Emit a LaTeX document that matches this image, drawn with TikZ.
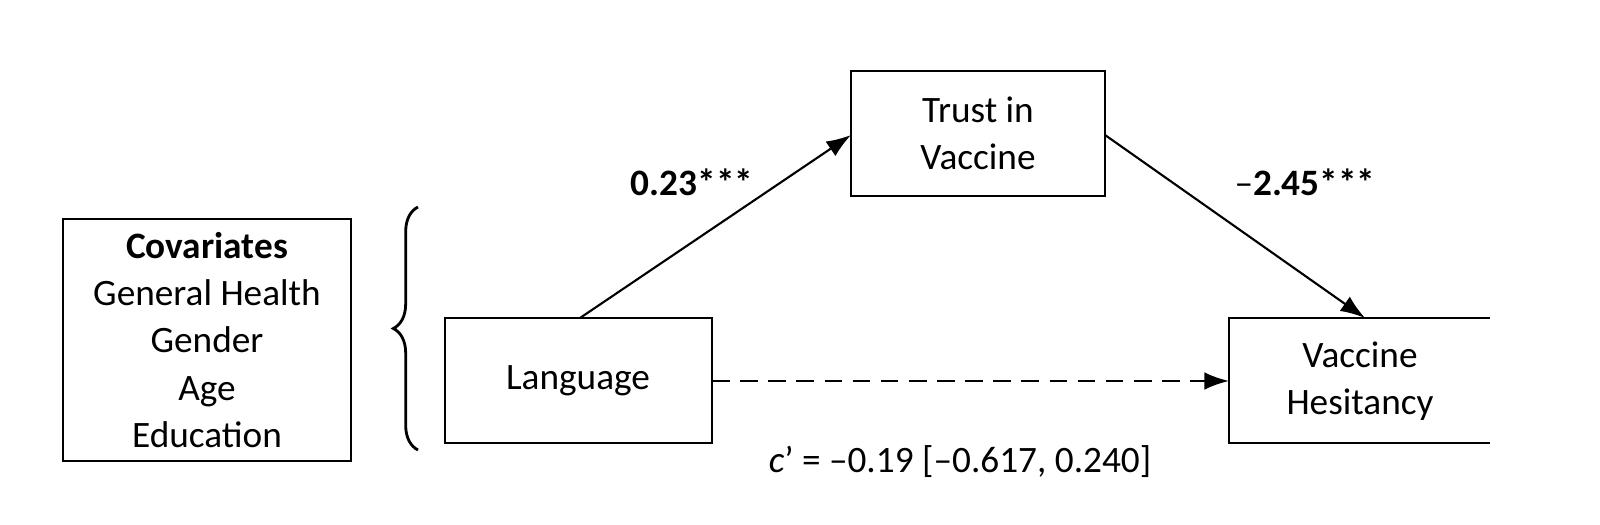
\documentclass[tikz,border=0pt]{standalone}
\usepackage{fontspec}
\setmainfont{Carlito}
\usetikzlibrary{decorations.pathreplacing,arrows.meta}
\begin{document}
\begin{tikzpicture}[x=0.01cm,y=-0.01cm,
  txt/.style={font=\fontsize{10.6}{13.4}\selectfont,align=center},
  arr/.style={line width=0.6pt,-{Latex[length=7pt,width=5pt]}}]
\draw[line width=0.8pt] (63,219) rectangle (351,461);
\node[txt] (cov) at (207,340) {\textbf{Covariates}\\General Health\\Gender\\Age\\Education};
\draw[line width=0.8pt,decorate,decoration={brace,amplitude=7pt,aspect=0.5}] (418,450) -- (418,207);
\draw[line width=0.8pt] (445,318) rectangle (712,443);
\node[txt] (lang) at (578,381) {Language};
\draw[line width=0.8pt] (851,71) rectangle (1105,196);
\node[txt] (trust) at (978,133) {Trust in\\Vaccine};
\draw[line width=0.8pt] (1490,318) -- (1229,318) -- (1229,443) -- (1490,443);
\node[txt] (vh) at (1360,381) {Vaccine\\Hesitancy};
\coordinate (a1) at (580,318); \coordinate (a2) at (851,135);
\coordinate (b1) at (1105,135); \coordinate (b2) at (1365,318);
\coordinate (c1) at (712,381); \coordinate (c2) at (1229,381);
\draw[arr] (a1) -- (a2);
\draw[arr] (b1) -- (b2);
\draw[arr,dash pattern=on 5pt off 3pt] (c1) -- (c2);
\node[txt] (l1) at (692,182) {\textbf{0.23***}};
\node[txt] (l2) at (1305,182) {–\textbf{2.45***}};
\node[txt] (l3) at (960,462) {\textit{c}’ = –0.19 [–0.617, 0.240]};
\pgfresetboundingbox
\useasboundingbox (0,0) rectangle (1600,525);
\end{tikzpicture}
\end{document}
